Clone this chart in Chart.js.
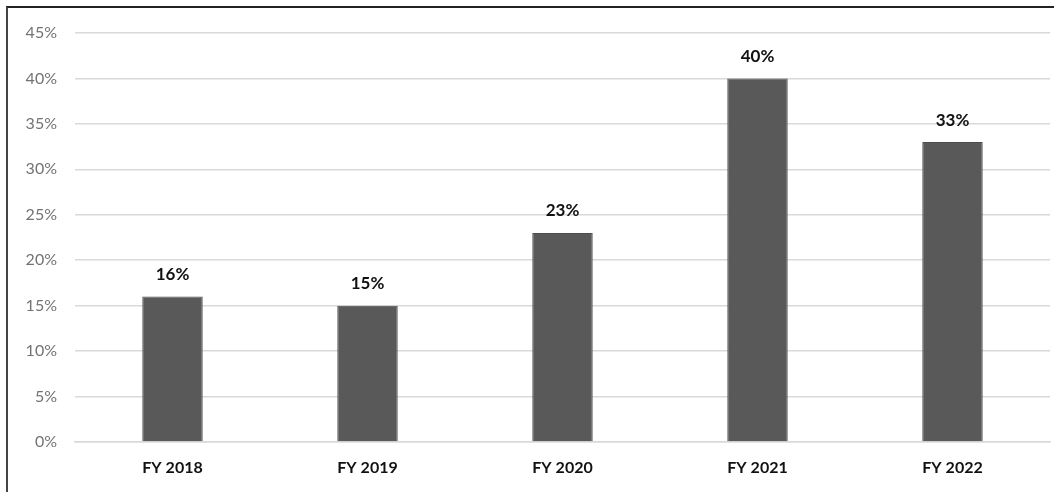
<!DOCTYPE html>
<html>
<head>
<meta charset="utf-8">
<script src="https://cdn.jsdelivr.net/npm/chart.js@4.4.0/dist/chart.umd.min.js"></script>
<style>
  html,body{margin:0;padding:0;background:#fff;}
  #wrap{position:relative;width:1061px;height:492px;}
  #frame{position:absolute;left:6px;top:6px;width:1048px;height:486px;border-top:2px solid #222;border-left:2px solid #444;box-sizing:border-box;pointer-events:none;}
  canvas{position:absolute;left:0;top:0;}
</style>
</head>
<body>
<div id="wrap">
  <canvas id="chart" width="1061" height="492"></canvas>
  <div id="frame"></div>
</div>
<script>
// datos del gráfico
const years = ['FY 2018','FY 2019','FY 2020','FY 2021','FY 2022'];
const shares = [16, 15, 23, 40, 33];
const yMax = 45, yStep = 5;

// etiquetas encima de cada barra
const barLabels = {
  id:'barLabels',
  afterDatasetsDraw(chart){
    const {ctx} = chart;
    const meta = chart.getDatasetMeta(0);
    ctx.save();
    ctx.font = 'bold 17px Lato, "Open Sans", sans-serif';
    ctx.fillStyle = '#111';
    ctx.textAlign = 'center';
    ctx.textBaseline = 'middle';
    meta.data.forEach((bar,i)=>{
      ctx.fillText(shares[i] + '%', bar.x, bar.y - 22);
    });
    ctx.restore();
  }
};

const ctx = document.getElementById('chart').getContext('2d');
new Chart(ctx, {
  type:'bar',
  data:{
    labels: years,
    datasets:[{
      data: shares,
      backgroundColor:'#595959',
      borderColor:'#4d4d4d',
      borderWidth:1,
      categoryPercentage:1,
      barPercentage:0.31
    }]
  },
  options:{
    responsive:false,
    animation:false,
    layout:{padding:{left:0, right:11, top:33, bottom:0}},
    plugins:{legend:{display:false}, tooltip:{enabled:false}},
    scales:{
      x:{
        grid:{display:false, drawTicks:false},
        border:{display:true, color:'#d9d9d9', width:1.5},
        ticks:{color:'#111', padding:16, font:{family:'Lato, "Open Sans", sans-serif', size:16, weight:'bold'}},
        afterFit: s => { s.height = 50; }
      },
      y:{
        min:0, max:yMax,
        grid:{color:'#d9d9d9', lineWidth:1.5, drawTicks:false},
        border:{display:false},
        ticks:{stepSize:yStep, color:'#737373', padding:18,
               font:{family:'Lato, "Open Sans", sans-serif', size:16},
               callback: v => v + '%'},
        afterFit: s => { s.width = 75; }
      }
    }
  },
  plugins:[barLabels]
});
</script>
</body>
</html>
